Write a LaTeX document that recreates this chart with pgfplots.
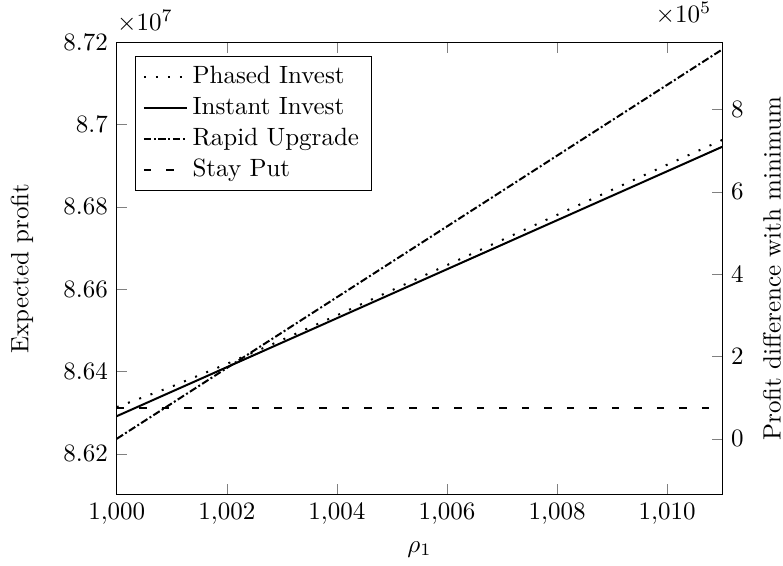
\documentclass[border=0pt]{standalone}
\usepackage{pgfplots}
\pgfplotsset{compat=1.18}
\usepackage{pgfplotstable}

\pgfplotstableread{
x     phased    instant   rapid     stay
1000  86313500  86291500  86236500  86310500
1001  86363500  86351000  86322500  86310500
1002  86418500  86410500  86408500  86310500
1003  86476500  86470000  86494500  86310500
1004  86536500  86529500  86580500  86310500
1005  86597500  86589000  86666500  86310500
1006  86658500  86648500  86752500  86310500
1007  86719500  86708000  86838500  86310500
1008  86780500  86767500  86924500  86310500
1009  86841500  86827000  87010500  86310500
1010  86902500  86886500  87096500  86310500
1011  86962500  86946000  87182500  86310500
}\datatable

\begin{document}
\begin{tikzpicture}
\begin{axis}[
  scale only axis,
  width=242.2pt, height=181.1pt,
  xmin=1000, xmax=1011,
  ymin=86100000, ymax=87200000,
  xtick={1000,1002,1004,1006,1008,1010},
  ytick={86200000,86400000,86600000,86800000,87000000,87200000},
  ytick pos=left,
  tick align=inside,
  tick scale binop=\times,
  every y tick scale label/.style={at={(rel axis cs:0,1)}, anchor=south west, inner sep=0pt, yshift=3.7pt},
  xlabel={$\rho_1$},
  ylabel={Expected profit},
  every axis x label/.style={at={(rel axis cs:0.5,0)}, anchor=north, yshift=-15pt},
  every axis y label/.style={at={(rel axis cs:0,0.5)}, xshift=-37.9pt, rotate=90, anchor=center},
  legend pos=north west,
  legend cell align=left,
]
\addplot[black, thick, loosely dotted] table[x=x, y=phased] {\datatable};
\addlegendentry{Phased Invest}
\addplot[black, thick] table[x=x, y=instant] {\datatable};
\addlegendentry{Instant Invest}
\addplot[black, thick, densely dashdotted] table[x=x, y=rapid] {\datatable};
\addlegendentry{Rapid Upgrade}
\addplot[black, thick, loosely dashed] table[x=x, y=stay] {\datatable};
\addlegendentry{Stay Put}
\coordinate (SW) at (rel axis cs:0,0);
\coordinate (NE) at (rel axis cs:1,1);
\end{axis}
\begin{axis}[
  scale only axis,
  width=242.2pt, height=181.1pt,
  xmin=1000, xmax=1011,
  ymin=-136500, ymax=963500,
  axis y line*=right,
  axis x line=none,
  tick align=inside,
  tick scale binop=\times,
  every y tick scale label/.style={at={(rel axis cs:1,1)}, anchor=south east, inner sep=0pt, xshift=-4.2pt, yshift=6.9pt},
  ytick={0,200000,400000,600000,800000},
  ylabel={Profit difference with minimum},
  every axis y label/.style={at={(rel axis cs:1,0.5)}, xshift=19.9pt, rotate=90, anchor=center},
]
\addplot[draw=none] coordinates {(1000,0) (1011,0)};
\end{axis}
\pgfresetboundingbox
\path ([shift={(-46.7pt,-28.4pt)}]SW) rectangle ([shift={(24.3pt,16.9pt)}]NE);
\end{tikzpicture}
\end{document}
